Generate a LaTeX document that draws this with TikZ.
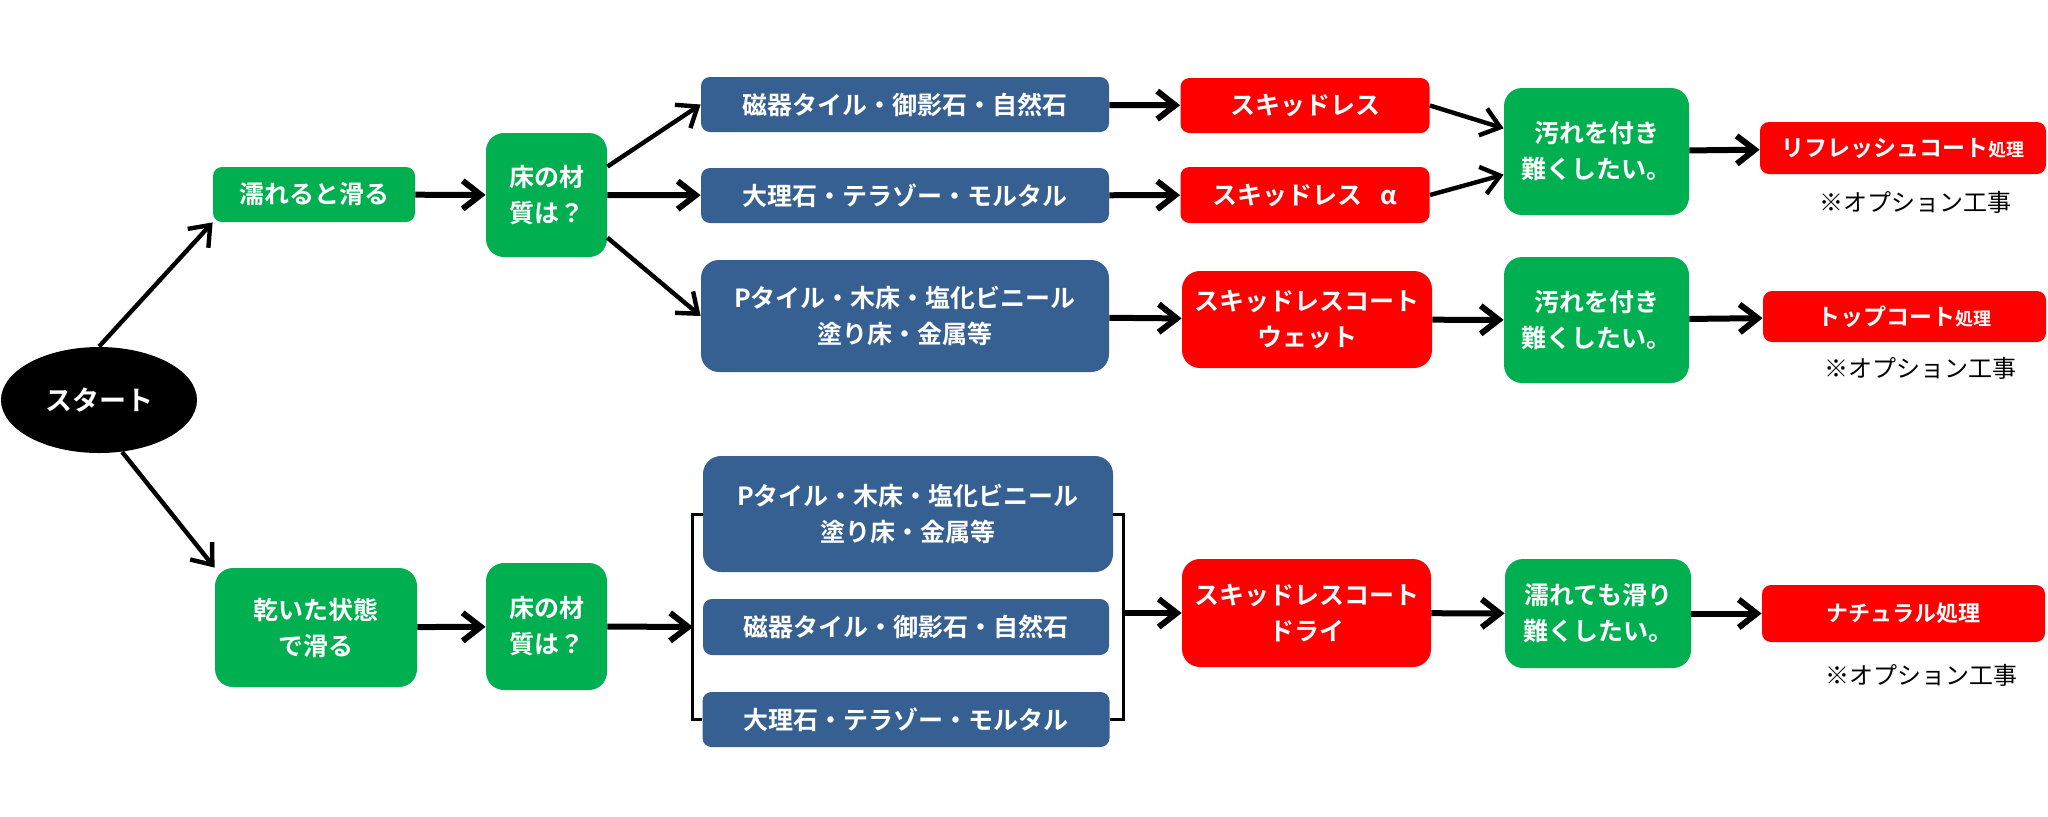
\documentclass[tikz,border=0pt]{standalone}
\usepackage{fontspec}
\setmainfont{Noto Sans CJK JP}[BoldFont={Noto Sans CJK JP Bold}]
\usepackage{xcolor}
\usepackage{tikz}
\usetikzlibrary{arrows.meta,shapes.geometric}
\definecolor{okgreen}{HTML}{00B050}
\definecolor{matblue}{HTML}{376092}

\begin{document}
\begin{tikzpicture}[x=0.5pt,y=0.5pt,yscale=-1,xscale=1,
  box/.style={rounded corners=4.5pt, inner sep=0.75pt, align=center, text=white, font=\bfseries\fontsize{12.5pt}{18pt}\selectfont},
  grnbox/.style={box, fill=okgreen},
  blubox/.style={box, fill=matblue},
  redbox/.style={box, fill=red},
  tall/.style={rounded corners=9pt},
  arr/.style={line width=3pt, -{Straight Barb[length=9pt,width=14pt]}},
  thinarr/.style={arr, line width=2.2pt},
  note/.style={inner sep=0.75pt, font=\fontsize{12pt}{14pt}\selectfont}]
\useasboundingbox (0,0) rectangle (2048,816);
\draw (99,400) node [ellipse, fill=black, text=white, minimum width=98pt, minimum height=53pt, font=\bfseries\fontsize{13.5pt}{16pt}\selectfont] (start) {スタート};
\draw (314,194.5) node [grnbox, minimum width=101pt, minimum height=27.5pt] (wet) {濡れると滑る};
\draw (546.5,195) node [grnbox, tall, minimum width=60.5pt, minimum height=62pt] (matA) {床の材\\質は？};
\draw (905,104.5) node [blubox, minimum width=204pt, minimum height=27.5pt] (tileA) {磁器タイル・御影石・自然石};
\draw (905,195.5) node [blubox, minimum width=204pt, minimum height=27.5pt] (marbleA) {大理石・テラゾー・モルタル};
\draw (905,316) node [blubox, tall, minimum width=204pt, minimum height=56pt] (ptileA) {Pタイル・木床・塩化ビニール\\塗り床・金属等};
\draw (1305,105.5) node [redbox, minimum width=124.5pt, minimum height=27.5pt] (skid) {スキッドレス};
\draw (1305,195) node [redbox, minimum width=124.5pt, minimum height=28pt] (skidA) {スキッドレス\hspace{0.7em}α};
\draw (1307,319.5) node [redbox, tall, minimum width=125pt, minimum height=48.5pt] (wetcoat) {スキッドレスコート\\ウェット};
\draw (1596.5,151.5) node [grnbox, tall, minimum width=92.5pt, minimum height=63.5pt] (stainA) {汚れを付き\\難くしたい。};
\draw (1596.5,320) node [grnbox, tall, minimum width=92.5pt, minimum height=63pt] (stainB) {汚れを付き\\難くしたい。};
\draw (1903,148) node [redbox, minimum width=143pt, minimum height=26pt, font=\bfseries\fontsize{11.5pt}{14pt}\selectfont] (refresh) {リフレッシュコート{\fontsize{9pt}{10pt}\selectfont 処理}};
\draw (1904.5,316.5) node [redbox, minimum width=141.5pt, minimum height=25.5pt, font=\bfseries\fontsize{11.5pt}{14pt}\selectfont] (topcoat) {トップコート{\fontsize{9pt}{10pt}\selectfont 処理}};
\draw (1915,202) node [note] (optA) {※オプション工事};
\draw (1920,368) node [note] (optB) {※オプション工事};
\draw (316,627.5) node [grnbox, tall, minimum width=101pt, minimum height=59.5pt] (dry) {乾いた状態\\で滑る};
\draw (546.5,626.5) node [grnbox, tall, minimum width=60.5pt, minimum height=63.5pt] (matB) {床の材\\質は？};
\draw (908,514) node [blubox, tall, minimum width=205pt, minimum height=58pt] (ptileB) {Pタイル・木床・塩化ビニール\\塗り床・金属等};
\draw (906,627) node [blubox, minimum width=203pt, minimum height=28pt] (tileB) {磁器タイル・御影石・自然石};
\draw (906,719.5) node [blubox, minimum width=203.5pt, minimum height=27.5pt] (marbleB) {大理石・テラゾー・モルタル};
\draw (1306.5,613) node [redbox, tall, minimum width=124.5pt, minimum height=54pt] (drycoat) {スキッドレスコート\\ドライ};
\draw (1598,613.5) node [grnbox, tall, minimum width=93pt, minimum height=54.5pt] (wetok) {濡れても滑り\\難くしたい。};
\draw (1903.5,613.5) node [redbox, minimum width=141.5pt, minimum height=28.5pt, font=\bfseries\fontsize{11pt}{14pt}\selectfont] (natural) {ナチュラル処理};
\draw (1921,675) node [note] (optC) {※オプション工事};
\coordinate (brL) at (693,627);
\coordinate (brR) at (1123,613);
\draw [line width=1.5pt] (ptileB.west) -- ++(-10,0) |- (marbleB.west);
\draw [line width=1.5pt] (ptileB.east) -- ++(10,0) |- (marbleB.east);
\draw [thinarr] (start.north) -- (wet.south west);
\draw [thinarr] (start.-66) -- (dry.north west);
\draw [arr] (wet) -- (matA);
\draw [thinarr] (matA.25) -- (tileA.west);
\draw [arr] (matA) -- (marbleA);
\draw [thinarr] (matA.-35) -- (ptileA.west);
\draw [arr] (tileA) -- (skid);
\draw [arr] (marbleA) -- (skidA);
\draw [arr] (ptileA) -- (wetcoat);
\draw [thinarr] (skid.east) -- (stainA.166);
\draw [thinarr] (skidA.east) -- (stainA.194);
\draw [arr] (wetcoat) -- (stainB);
\draw [arr] (stainA) -- (refresh);
\draw [arr] (stainB) -- (topcoat);
\draw [arr] (dry) -- (matB);
\draw [arr] (matB.east) -- (brL);
\draw [arr] (brR) -- (drycoat.west);
\draw [arr] (drycoat) -- (wetok);
\draw [arr] (wetok) -- (natural);
\end{tikzpicture}
\end{document}
